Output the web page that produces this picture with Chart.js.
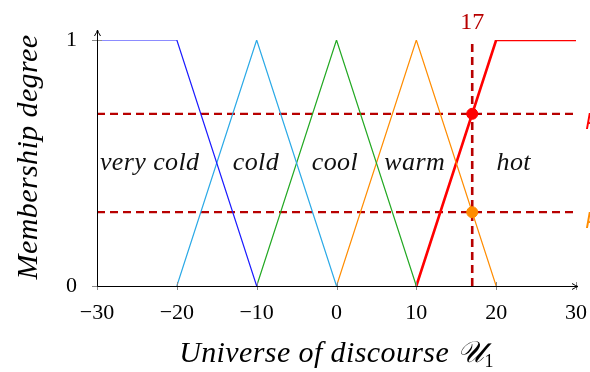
<!DOCTYPE html>
<html>
<head>
<meta charset="utf-8">
<script src="https://cdn.jsdelivr.net/npm/chart.js@4.4.1/dist/chart.umd.min.js"></script>
<style>
  html, body { margin: 0; padding: 0; background: #fff; }
  #wrap { width: 590px; height: 372px; }
</style>
</head>
<body>
<div id="wrap"><canvas id="fuzzyChart"></canvas></div>
<script>
// fuzzy sets over the temperature universe
const setNames = ['very cold', 'cold', 'cool', 'warm', 'hot'];
const setX = [[-30, -20, -10], [-20, -10, 0], [-10, 0, 10], [0, 10, 20], [10, 20, 30]];
const setY = [[1, 1, 0], [0, 1, 0], [0, 1, 0], [0, 1, 0], [0, 1, 1]];
const setColors = ['#1a1aff', '#2aa9e6', '#22a822', '#ff8c00', '#ff0000'];
const setWidths = [1.2, 1.2, 1.2, 1.2, 2.6];
const labelX = [-23.4, -10.1, -0.2, 9.8, 22.2];
const labelY = 0.5;

// crisp input and its memberships (hot, warm)
const inputX = 17;
const degrees = [0.7, 0.3];
const degreeColors = ['#ff0000', '#ff8c00'];

const xTicks = [-30, -20, -10, 0, 10, 20, 30];
const yTicks = [0, 1];

const SERIF = "'Liberation Serif', 'DejaVu Serif', serif";
const DARKRED = '#b80000';

const fmt = v => (v < 0 ? '\u2212' + Math.abs(v) : String(v));

const datasets = [];
// horizontal guides at each membership degree
degrees.forEach(d => {
    datasets.push({
        data: [{x: -30, y: d}, {x: 30, y: d}],
        borderColor: DARKRED, borderWidth: 2.2, borderDash: [8, 5],
        pointRadius: 0, order: 3
    });
});
// vertical guide at the input
datasets.push({
    data: [{x: inputX, y: 0}, {x: inputX, y: 1}],
    borderColor: DARKRED, borderWidth: 2.6, borderDash: [8, 5],
    pointRadius: 0, order: 3
});
setNames.forEach((name, i) => {
    datasets.push({
        label: name,
        data: setX[i].map((x, k) => ({x, y: setY[i][k]})),
        borderColor: setColors[i], borderWidth: setWidths[i],
        pointRadius: 0, order: 2
    });
});
degrees.forEach((d, i) => {
    datasets.push({
        data: [{x: inputX, y: d}],
        showLine: false, pointRadius: 5.5,
        pointBackgroundColor: degreeColors[i], pointBorderColor: degreeColors[i],
        order: 1
    });
});

const overlay = {
    id: 'overlay',
    afterDatasetsDraw(chart) {
        const {ctx, scales: {x, y}} = chart;
        const x0 = x.getPixelForValue(-30), y0 = y.getPixelForValue(0);
        ctx.save();
        ctx.lineCap = 'butt';

        // tick marks crossing the axes
        ctx.strokeStyle = '#8a8a8a';
        ctx.lineWidth = 1;
        xTicks.forEach(v => {
            const px = Math.round(x.getPixelForValue(v)) + 0.5;
            ctx.beginPath(); ctx.moveTo(px, y0 - 4); ctx.lineTo(px, y0 + 4); ctx.stroke();
        });
        yTicks.forEach(v => {
            const py = Math.round(y.getPixelForValue(v)) + 0.5;
            ctx.beginPath(); ctx.moveTo(x0 - 5, py); ctx.lineTo(x0 + 5, py); ctx.stroke();
        });

        // axes with arrow heads
        ctx.strokeStyle = '#000';
        ctx.fillStyle = '#000';
        const ax = Math.round(x0) + 0.5, ay = Math.round(y0) + 0.5;
        const xEnd = x.getPixelForValue(30) + 2, yEnd = y.getPixelForValue(1) - 10;
        ctx.beginPath(); ctx.moveTo(ax, ay); ctx.lineTo(xEnd, ay); ctx.stroke();
        ctx.beginPath(); ctx.moveTo(ax, ay); ctx.lineTo(ax, yEnd); ctx.stroke();
        ctx.beginPath();
        ctx.moveTo(xEnd - 6, ay - 3); ctx.quadraticCurveTo(xEnd - 2, ay - 0.5, xEnd, ay);
        ctx.quadraticCurveTo(xEnd - 2, ay + 0.5, xEnd - 6, ay + 3);
        ctx.stroke();
        ctx.beginPath();
        ctx.moveTo(ax - 3, yEnd + 6); ctx.quadraticCurveTo(ax - 0.5, yEnd + 2, ax, yEnd);
        ctx.quadraticCurveTo(ax + 0.5, yEnd + 2, ax + 3, yEnd + 6);
        ctx.stroke();

        // set names
        ctx.font = 'italic 26px ' + SERIF;
        ctx.letterSpacing = '0.4px';
        ctx.textAlign = 'center';
        ctx.textBaseline = 'middle';
        ctx.fillStyle = '#111';
        setNames.forEach((name, i) => {
            ctx.fillText(name, x.getPixelForValue(labelX[i]), y.getPixelForValue(labelY));
        });

        // input value above the vertical guide
        ctx.letterSpacing = '0px';
        ctx.font = '24px ' + SERIF;
        ctx.fillStyle = DARKRED;
        ctx.textBaseline = 'alphabetic';
        ctx.fillText(String(inputX), x.getPixelForValue(inputX), 29);

        // degree labels running off the right edge
        ctx.font = 'italic 24px ' + SERIF;
        ctx.textAlign = 'left';
        ctx.textBaseline = 'middle';
        degrees.forEach((d, i) => {
            ctx.fillStyle = degreeColors[i];
            ctx.fillText('\u03bc', 586, y.getPixelForValue(d) + 4);
        });

        // axis titles
        ctx.fillStyle = '#000';
        ctx.font = 'italic 30px ' + SERIF;
        ctx.letterSpacing = '0.4px';
        ctx.textAlign = 'center';
        ctx.textBaseline = 'middle';
        ctx.save();
        ctx.translate(29, (y.top + y.bottom) / 2 - 6);
        ctx.rotate(-Math.PI / 2);
        ctx.fillText('Membership degree', 0, 0);
        ctx.restore();

        const main = 'Universe of discourse ';
        const script = '\ud835\udcb0';
        const wMain = ctx.measureText(main).width;
        const wScript = ctx.measureText(script).width;
        ctx.font = '18px ' + SERIF;
        const wSub = ctx.measureText('1').width;
        const total = wMain + wScript + wSub;
        let sx = (x.left + x.right) / 2 - total / 2;
        ctx.textAlign = 'left';
        ctx.textBaseline = 'alphabetic';
        ctx.font = 'italic 30px ' + SERIF;
        ctx.fillText(main, sx, 362);
        sx += wMain;
        ctx.fillText(script, sx, 362);
        sx += wScript;
        ctx.font = '18px ' + SERIF;
        ctx.fillText('1', sx, 367);
        ctx.restore();
    }
};

new Chart(document.getElementById('fuzzyChart'), {
    type: 'line',
    data: {datasets},
    options: {
        responsive: true,
        maintainAspectRatio: false,
        animation: false,
        layout: {padding: {top: 40, right: 14, left: 0, bottom: 0}},
        plugins: {legend: {display: false}, tooltip: {enabled: false}},
        elements: {line: {tension: 0}},
        scales: {
            x: {
                type: 'linear', min: -30, max: 30,
                afterBuildTicks: s => { s.ticks = xTicks.map(value => ({value})); },
                afterFit: s => { s.height = 86; s.paddingLeft = 0; s.paddingRight = 0; },
                grid: {display: false},
                border: {display: false},
                ticks: {
                    padding: 6, color: '#000',
                    font: {family: SERIF, size: 22},
                    callback: v => fmt(v),
                    maxRotation: 0
                }
            },
            y: {
                type: 'linear', min: 0, max: 1,
                afterBuildTicks: s => { s.ticks = yTicks.map(value => ({value})); },
                afterFit: s => { s.width = 97; s.paddingTop = 0; s.paddingBottom = 0; },
                grid: {display: false},
                border: {display: false},
                ticks: {
                    padding: 12, color: '#000',
                    font: {family: SERIF, size: 22},
                    callback: v => String(v)
                }
            }
        }
    },
    plugins: [overlay]
});
</script>
</body>
</html>
